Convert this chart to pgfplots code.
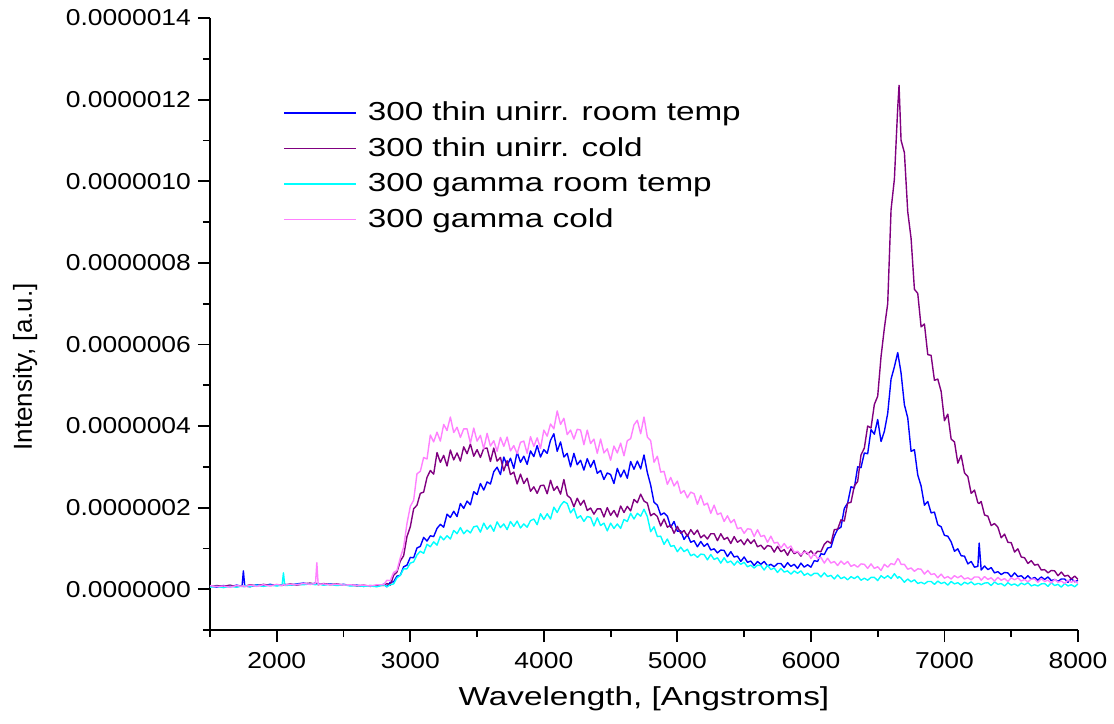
\documentclass[border=0pt]{standalone}
\usepackage{fontspec}
\setmainfont{Liberation Sans}[FakeStretch=1.15]
\newfontfamily\bigfont{Liberation Sans}[FakeStretch=1.28]
\newfontfamily\ylabfont{Liberation Sans}
\usepackage{pgfplots}
\usepackage{pgfplotstable}
\pgfplotsset{compat=1.18}
\definecolor{cblue}{RGB}{0,0,255}
\definecolor{cpurple}{RGB}{128,0,128}
\definecolor{ccyan}{RGB}{0,255,255}
\definecolor{cpink}{RGB}{255,128,255}
% intensities in units of 1e-7 a.u.
\pgfplotstableread{
x b p c m
1500 .08 .06 .05 .09
1550 .05 .09 .07 .06
1600 .09 .07 .04 .08
1650 .06 .10 .07 .05
1700 .10 .06 .05 .09
1740 .07 .09 .08 .07
1750 .45 .08 .06 .09
1760 .08 .07 .09 .06
1800 .06 .11 .07 .10
1850 .11 .08 .10 .07
1900 .08 .12 .07 .11
1950 .12 .09 .10 .08
2000 .09 .11 .08 .12
2040 .11 .09 .10 .09
2050 .10 .12 .40 .11
2060 .12 .10 .09 .10
2100 .10 .13 .10 .12
2150 .13 .10 .12 .11
2200 .15 .13 .11 .14
2250 .12 .15 .13 .12
2290 .15 .12 .11 .14
2300 .13 .14 .12 .65
2310 .14 .11 .13 .12
2350 .11 .14 .10 .13
2400 .13 .11 .12 .11
2450 .10 .13 .09 .12
2500 .12 .10 .11 .10
2550 .09 .11 .08 .11
2600 .10 .08 .09 .09
2650 .07 .10 .07 .10
2700 .09 .07 .08 .08
2750 .07 .09 .06 .11
2800 .12 .09 .11 .11
2825 .06 .14 .06 .22
2850 .17 .10 .11 .21
2875 .18 .34 .13 .41
2900 .32 .42 .28 .46
2925 .34 .69 .34 .77
2950 .55 .82 .50 1.03
2975 .59 1.29 .50 1.61
3000 .78 1.53 .64 2.03
3025 .77 1.97 .67 2.18
3050 1.01 2.06 .84 2.83
3075 1.05 2.35 .93 2.89
3100 1.27 2.38 .88 3.23
3125 1.18 2.74 1.10 3.19
3150 1.31 2.91 1.04 3.78
3175 1.29 2.82 1.16 3.61
3200 1.49 3.35 1.08 3.85
3225 1.59 3.11 1.30 3.63
3250 1.52 3.28 1.21 4.04
3275 1.84 3.02 1.31 3.89
3300 1.76 3.41 1.23 4.22
3325 1.91 3.17 1.44 3.84
3350 1.78 3.34 1.36 3.97
3375 2.10 3.14 1.51 3.72
3400 1.98 3.49 1.36 3.93
3425 2.16 3.32 1.45 3.93
3450 2.07 3.56 1.38 3.58
3475 2.39 3.26 1.53 3.95
3500 2.32 3.42 1.55 3.63
3525 2.59 3.23 1.40 3.77
3550 2.43 3.45 1.62 3.44
3575 2.63 3.46 1.47 3.82
3600 2.58 3.13 1.57 3.51
3625 2.88 3.46 1.42 3.64
3650 2.99 3.14 1.65 3.38
3675 2.81 3.23 1.51 3.72
3700 3.24 2.90 1.60 3.50
3725 3.03 3.15 1.46 3.73
3750 3.21 2.81 1.66 3.39
3775 2.96 2.87 1.54 3.52
3800 3.36 2.58 1.67 3.32
3825 3.11 2.82 1.50 3.60
3850 3.26 2.59 1.60 3.63
3875 3.06 2.72 1.52 3.33
3900 3.39 2.40 1.68 3.74
3925 3.25 2.51 1.72 3.50
3950 3.52 2.35 1.58 3.71
3975 3.24 2.54 1.85 3.45
4000 3.42 2.55 1.71 3.90
4025 3.33 2.34 1.85 3.75
4050 3.65 2.67 1.72 4.05
4075 3.81 2.42 2.01 3.93
4100 3.38 2.52 1.88 4.37
4125 3.61 2.33 2.05 4.04
4150 3.24 2.69 2.15 4.19
4175 3.33 2.30 2.10 3.79
4200 3.00 2.23 1.87 3.90
4225 3.33 2.02 1.98 3.68
4250 3.05 2.23 1.74 3.92
4275 3.16 2.06 1.80 3.90
4300 2.92 2.18 1.66 3.54
4325 3.20 1.93 1.78 3.90
4350 2.99 1.99 1.76 3.57
4375 3.16 1.84 1.55 3.68
4400 2.84 1.97 1.75 3.33
4425 2.91 1.97 1.56 3.68
4450 2.69 1.77 1.62 3.34
4475 2.85 2.00 1.43 3.44
4500 2.81 1.81 1.62 3.16
4525 2.59 1.93 1.49 3.51
4550 2.96 1.77 1.60 3.34
4575 2.75 2.04 1.49 3.58
4600 2.92 1.88 1.71 3.27
4625 2.72 2.03 1.66 3.64
4650 3.13 1.92 1.86 3.69
4675 2.94 2.20 1.72 4.03
4700 3.14 2.12 1.86 4.14
4725 2.95 2.33 1.79 3.81
4750 3.29 2.16 1.96 4.22
4775 2.86 2.11 1.78 3.73
4800 2.55 1.80 1.41 3.64
4825 2.13 1.86 1.53 3.11
4850 2.06 1.78 1.29 3.26
4875 1.82 1.55 1.30 2.87
4900 1.87 1.72 1.10 2.89
4925 1.79 1.52 1.23 2.57
4950 1.52 1.57 1.05 2.74
4975 1.66 1.37 1.07 2.53
5000 1.42 1.54 .92 2.65
5025 1.43 1.37 1.03 2.35
5050 1.22 1.44 .92 2.42
5075 1.34 1.30 .98 2.24
5100 1.15 1.46 .82 2.38
5125 1.19 1.34 .86 2.34
5150 1.04 1.45 .78 2.08
5175 1.17 1.26 .86 2.30
5200 1.05 1.33 .85 2.06
5225 1.12 1.23 .72 2.11
5250 .96 1.36 .85 1.86
5275 .99 1.36 .73 2.06
5300 .89 1.19 .77 1.83
5325 .96 1.36 .64 1.87
5350 .95 1.22 .77 1.66
5375 .80 1.27 .65 1.80
5400 .92 1.12 .69 1.63
5425 .79 1.29 .59 1.71
5450 .81 1.15 .69 1.48
5475 .68 1.21 .61 1.51
5500 .79 1.09 .66 1.37
5525 .66 1.23 .55 1.48
5550 .69 1.12 .59 1.47
5575 .58 1.21 .52 1.29
5600 .68 1.04 .59 1.46
5625 .61 1.08 .58 1.29
5650 .68 .98 .47 1.32
5675 .57 1.07 .59 1.15
5700 .61 1.05 .48 1.30
5725 .55 .91 .52 1.13
5750 .63 1.05 .41 1.15
5775 .63 .92 .51 1.01
5800 .53 .97 .42 1.12
5825 .65 .83 .45 1.00
5850 .56 .99 .37 1.06
5875 .61 .87 .45 .90
5900 .51 .92 .39 .93
5925 .64 .81 .45 .84
5950 .54 .94 .34 .91
5975 .60 .86 .39 .90
6000 .54 .94 .33 .75
6025 .70 .84 .39 .88
6050 .68 .93 .39 .75
6075 .87 .92 .30 .78
6100 .85 1.10 .40 .64
6125 1.01 1.18 .31 .76
6150 1.03 1.12 .34 .64
6175 1.30 1.46 .25 .68
6200 1.47 1.47 .35 .58
6225 1.52 1.70 .26 .69
6250 1.98 1.67 .30 .61
6275 2.11 2.11 .23 .68
6300 2.51 2.13 .31 .56
6325 2.48 2.53 .26 .60
6350 3.00 2.64 .32 .54
6375 2.98 3.29 .22 .62
6400 3.34 3.46 .27 .61
6425 3.32 4.00 .22 .51
6450 3.91 3.95 .29 .62
6475 3.80 4.53 .29 .51
6500 4.16 4.73 .21 .55
6525 3.62 5.70 .33 .46
6550 3.87 6.40 .27 .61
6575 4.31 7.00 .33 .54
6600 5.15 9.30 .26 .63
6625 5.45 10.05 .38 .60
6650 5.80 11.80 .27 .75
6660 5.60 12.35 .31 .72
6675 5.30 11.00 .27 .61
6700 4.52 10.70 .17 .61
6725 4.20 9.25 .25 .49
6750 3.38 8.60 .18 .52
6775 3.42 7.35 .23 .44
6800 2.80 7.25 .14 .50
6825 2.53 6.43 .17 .49
6850 2.06 6.50 .13 .37
6875 2.15 5.75 .19 .46
6900 1.87 5.73 .19 .36
6925 1.89 5.12 .12 .38
6950 1.58 5.15 .20 .28
6975 1.53 4.85 .14 .37
7000 1.32 4.13 .17 .27
7025 1.30 4.29 .10 .31
7050 1.16 3.68 .19 .25
7075 .93 3.61 .13 .33
7100 .99 3.09 .16 .28
7125 .82 3.28 .10 .33
7150 .81 2.85 .17 .25
7175 .62 2.76 .13 .28
7200 .68 2.35 .18 .23
7225 .54 2.43 .11 .30
7250 .56 2.12 .14 .30
7260 1.13 2.10 .14 .29
7275 .47 2.15 .11 .22
7300 .57 1.82 .15 .31
7325 .48 1.79 .16 .24
7350 .53 1.56 .09 .28
7375 .40 1.61 .18 .20
7400 .43 1.52 .12 .29
7425 .36 1.26 .14 .22
7450 .41 1.35 .08 .26
7475 .40 1.15 .16 .19
7500 .30 1.14 .10 .28
7525 .40 .91 .13 .23
7550 .31 .99 .08 .28
7575 .33 .79 .15 .20
7600 .25 .77 .11 .24
7625 .33 .63 .16 .18
7650 .25 .70 .08 .25
7675 .29 .59 .11 .25
7700 .22 .61 .08 .17
7725 .30 .47 .13 .26
7750 .24 .48 .14 .19
7775 .30 .40 .07 .22
7800 .21 .46 .16 .15
7825 .24 .45 .09 .24
7850 .19 .33 .12 .17
7875 .25 .42 .05 .20
7900 .25 .32 .14 .14
7925 .17 .34 .08 .22
7950 .26 .25 .11 .17
7975 .18 .32 .06 .21
8000 .22 .24 .13 .14
}\spectra

\begin{document}
\begin{tikzpicture}
\begin{axis}[
  width=434pt, height=306pt, scale only axis,
  xmin=1500, xmax=8000, ymin=-1, ymax=14,
  axis lines=left,
  axis line style={-, line width=0.9pt},
  xtick={2000,3000,...,8000},
  minor xtick={1500,2500,...,7500},
  ytick={0,2,4,6,8,10,12,14},
  yticklabels={0.0000000,0.0000002,0.0000004,0.0000006,0.0000008,0.0000010,0.0000012,0.0000014},
  minor ytick={-1,1,3,5,7,9,11,13},
  tick align=outside,
  major tick length=6pt, minor tick length=3.5pt,
  tick style={line width=0.9pt, black},
  every tick label/.append style={font=\fontsize{11.5}{14}\selectfont},
  xticklabel style={yshift=-1.5pt},
  /pgf/number format/assume math mode=true,
  /pgf/number format/set thousands separator={},
  xlabel={Wavelength, [Angstroms]},
  ylabel={Intensity, [a.u.]},
  xlabel style={font=\bigfont\fontsize{13}{16}\selectfont, at={(axis description cs:0.5,-0.112)}, anchor=center},
  ylabel style={font=\ylabfont\fontsize{13}{16}\selectfont, at={(axis description cs:-0.213,0.43)}, anchor=center},
  legend style={draw=none, fill=none, at={(axis description cs:0.084,0.872)}, anchor=north west,
    font=\bigfont\fontsize{13}{16}\selectfont, inner sep=0pt, row sep=1.25pt,
    nodes={inner sep=0pt, text height=12pt, text depth=4.5pt}},
  legend cell align=left,
  legend image code/.code={\draw[#1, line width=0.75pt] (0pt,0pt) -- (36pt,0pt); \path (41.5pt,0pt);},
  every axis plot/.append style={line width=0.7pt, line join=round},
]
\addplot[cblue] table[x=x, y=b] {\spectra};
\addlegendentry{300 thin unirr. room temp}
\addplot[cpurple] table[x=x, y=p] {\spectra};
\addlegendentry{300 thin unirr. cold}
\addplot[ccyan] table[x=x, y=c] {\spectra};
\addlegendentry{300 gamma room temp}
\addplot[cpink] table[x=x, y=m] {\spectra};
\addlegendentry{300 gamma cold}
\end{axis}
\pgfresetboundingbox
\path[use as bounding box] ([shift={(-105pt,-46.5pt)}]current axis.south west) rectangle ([shift={(18pt,9pt)}]current axis.north east);
\end{tikzpicture}
\end{document}
